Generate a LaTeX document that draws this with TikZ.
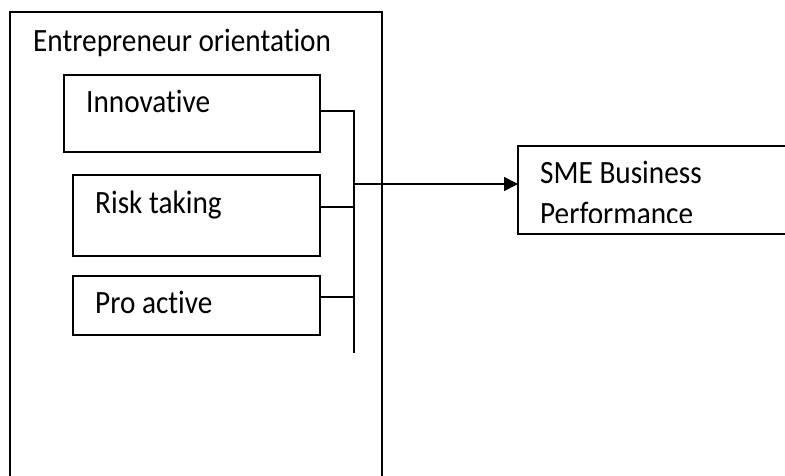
\documentclass[tikz,border=0pt]{standalone}
\usepackage{fontspec}
\setmainfont[FakeStretch=0.9,RawFeature=-liga]{Carlito}
\usetikzlibrary{arrows.meta,positioning}

\begin{document}
\begin{tikzpicture}[x=1pt,y=-1pt]
\tikzstyle{box}=[draw,line width=1.6pt,rectangle,anchor=north west,inner sep=0pt,outer sep=0pt]
\tikzstyle{lbl}=[anchor=base west,inner sep=0pt,font=\fontsize{32.5}{40}\selectfont]
\tikzstyle{link}=[line width=1.6pt]

\useasboundingbox (0,0) rectangle (785,476);
\clip (0,0) rectangle (785,476);

% outer frame, runs off the bottom edge
\node[box,minimum width=372pt,minimum height=500pt] (eo) at (10,12) {};
\node[lbl] (eolabel) at (33,52) {Entrepreneur orientation};

% the three dimensions
\node[box,minimum width=256pt,minimum height=77pt] (innov) at (64,75) {};
\node[box,minimum width=247pt,minimum height=81pt] (risk) at (73,175) {};
\node[box,minimum width=247pt,minimum height=59pt] (pro) at (73,276) {};

\node[lbl] (innovlabel) at (86,113) {Innovative};
\node[lbl] (risklabel) at (95,213) {Risk taking};
\node[lbl] (prolabel) at (95,313) {Pro active};

% outcome box, cut off on the right
\node[box,minimum width=300pt,minimum height=88pt] (sme) at (518,146) {};
\begin{scope}
\clip (518,146) rectangle (785,222.5);
\node[lbl] (smelabel) at (540,183) {SME Business};
\node[lbl] (smelabelb) at (540,225) {Performance};
\end{scope}

% collecting line
\coordinate (bustop) at (354,111);
\coordinate (busbot) at (354,353);
\coordinate (split) at (354,184);

\draw[link] (innov.east |- bustop) -- (bustop) -- (busbot);
\draw[link] ([yshift=8.5pt]risk.east) -- ([yshift=8.5pt]risk.east -| bustop);
\draw[link] ([yshift=8.5pt]pro.east) -- ([yshift=8.5pt]pro.east -| bustop);

\draw[link,-{Triangle[length=14pt,width=14pt]}] (split) -- (split -| sme.west);

\end{tikzpicture}
\end{document}
